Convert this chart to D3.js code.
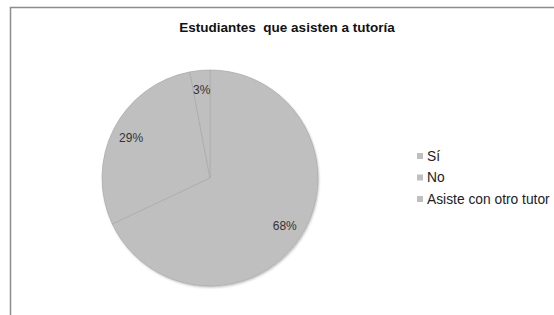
<!DOCTYPE html>
<html>
<head>
<meta charset="utf-8">
<script src="https://cdn.jsdelivr.net/npm/d3@7"></script>
<style>
  body { margin: 0; background: #fff; }
  svg { display: block; font-family: "Liberation Sans", Arial, sans-serif; }
</style>
</head>
<body>
<svg id="chart" width="554" height="315"></svg>
<script>
const title = "Estudiantes\u00a0 que asisten a tutoría"
const categories = ["Sí", "No", "Asiste con otro tutor"]
const values = [68, 29, 3]

const svg = d3.select("#chart")
const width = 554, height = 315
const cx = 210, cy = 178, radius = 108

// Chart frame (cropped at right and bottom)
svg.append("path")
  .attr("d", `M10.5,${height} V7.5 H${width}`)
  .attr("fill", "none")
  .attr("stroke", "#8c8c8c")
  .attr("stroke-width", 1.5)

// Title
svg.append("text")
  .attr("x", 287)
  .attr("y", 32)
  .attr("text-anchor", "middle")
  .style("font-size", "13.5px")
  .style("font-weight", "bold")
  .style("fill", "#111")
  .text(title)

// Soft shadow for the pie
const defs = svg.append("defs")
const shadow = defs.append("filter").attr("id", "shadow")
  .attr("x", "-10%").attr("y", "-10%").attr("width", "120%").attr("height", "120%")
shadow.append("feDropShadow")
  .attr("dx", 1).attr("dy", 1.5).attr("stdDeviation", 1.2)
  .attr("flood-color", "#000").attr("flood-opacity", 0.25)

const pie = d3.pie().sort(null).value(d => d.value)
const arcs = pie(categories.map((c, i) => ({ name: c, value: values[i] })))
const arc = d3.arc().innerRadius(0).outerRadius(radius)
const labelArc = d3.arc().innerRadius(radius * 0.82).outerRadius(radius * 0.82)

const g = svg.append("g").attr("transform", `translate(${cx},${cy})`)

g.append("circle")
  .attr("r", radius)
  .attr("fill", "#bfbfbf")
  .attr("filter", "url(#shadow)")

g.selectAll("path.slice")
  .data(arcs)
  .enter()
  .append("path")
  .attr("class", "slice")
  .attr("d", arc)
  .attr("fill", "#bfbfbf")
  .attr("stroke", "#a8a8a8")
  .attr("stroke-width", 0.6)

g.selectAll("text.pct")
  .data(arcs)
  .enter()
  .append("text")
  .attr("class", "pct")
  .attr("transform", d => `translate(${labelArc.centroid(d)})`)
  .attr("text-anchor", "middle")
  .attr("dy", "0.35em")
  .style("font-size", "12px")
  .style("fill", "#333")
  .text(d => d.data.value + "%")

// Legend
const legend = svg.append("g").attr("transform", "translate(417,156)")
const rows = legend.selectAll("g")
  .data(categories)
  .enter()
  .append("g")
  .attr("transform", (d, i) => `translate(0,${i * 21.5})`)

rows.append("rect")
  .attr("x", 0).attr("y", -3)
  .attr("width", 6).attr("height", 6)
  .attr("fill", "#bfbfbf")

rows.append("text")
  .attr("x", 10)
  .attr("dy", "0.36em")
  .style("font-size", "13.8px")
  .style("fill", "#222")
  .text(d => d)
</script>
</body>
</html>
